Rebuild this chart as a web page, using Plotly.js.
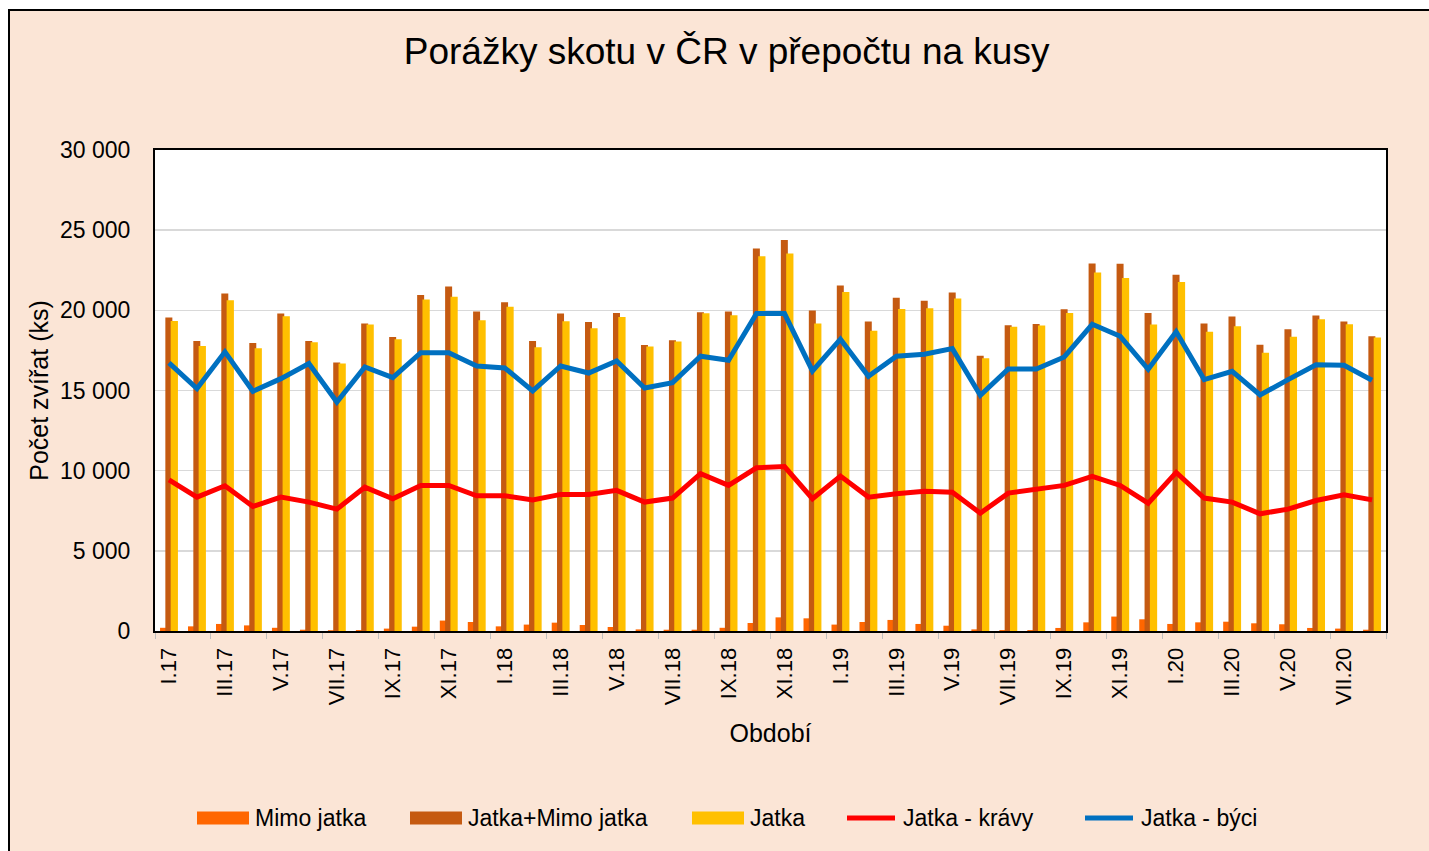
<!DOCTYPE html>
<html>
<head>
<meta charset="utf-8">
<script src="https://cdn.plot.ly/plotly-3.0.1.min.js"></script>
<style>
  html, body { margin: 0; padding: 0; background: #ffffff; overflow: hidden; }
  #frame { position: absolute; left: 8px; top: 9px; width: 1440px; height: 860px;
           border-left: 2px solid #000; border-top: 2px solid #000; background: #FBE5D6; }
  #chart { position: absolute; left: 0; top: 0; width: 1419px; height: 840px; }
</style>
</head>
<body>
<div id="frame"><div id="chart"></div></div>
<script>
const months = [
  "I.17","II.17","III.17","IV.17","V.17","VI.17","VII.17","VIII.17","IX.17","X.17","XI.17","XII.17",
  "I.18","II.18","III.18","IV.18","V.18","VI.18","VII.18","VIII.18","IX.18","X.18","XI.18","XII.18",
  "I.19","II.19","III.19","IV.19","V.19","VI.19","VII.19","VIII.19","IX.19","X.19","XI.19","XII.19",
  "I.20","II.20","III.20","IV.20","V.20","VI.20","VII.20","VIII.20"
];
const mimoJatka = [200,290,440,350,200,80,50,60,150,270,650,560,
  290,400,520,375,250,100,80,80,200,500,850,790,
  400,560,690,440,330,100,60,60,190,540,900,730,
  440,540,580,480,420,190,150,80];
const jatkaMimo = [19550,18090,21050,17970,19800,18090,16740,19180,18340,20950,21490,19930,
  20510,18090,19800,19280,19840,17840,18130,19880,19930,23860,24380,19990,
  21550,19300,20780,20590,21110,17160,19070,19150,20070,22920,22900,19840,
  22220,19180,19610,17860,18820,19680,19300,18380];
const jatka = [19340,17780,20630,17640,19630,18010,16680,19110,18200,20670,20840,19380,
  20220,17700,19320,18880,19590,17740,18050,19820,19700,23380,23550,19180,
  21150,18720,20090,20130,20740,17010,18970,19050,19840,22360,22010,19110,
  21760,18660,19010,17360,18360,19450,19130,18300];
const kravy = [9430,8350,9060,7770,8350,8040,7600,8970,8250,9080,9080,8430,
  8430,8180,8520,8520,8770,8040,8290,9810,9080,10180,10260,8250,
  9660,8350,8560,8720,8660,7350,8600,8870,9080,9640,9080,7970,
  9890,8290,8040,7310,7600,8140,8500,8180];
const byci = [16720,15120,17410,14950,15740,16680,14280,16470,15800,17360,17360,16530,
  16410,14970,16530,16090,16840,15160,15490,17140,16890,19800,19800,16220,
  18200,15890,17140,17260,17610,14700,16340,16340,17090,19130,18380,16320,
  18660,15680,16200,14720,15680,16610,16570,15640];

const seriesNames = ['Mimo jatka','Jatka+Mimo jatka','Jatka','Jatka - krávy','Jatka - býci'];
const seriesColors = ['#FF6600','#C55A11','#FFC000','#FF0000','#0070C0'];

const FONT = "Liberation Sans, Arial, sans-serif";
const traces = [
  {type:'bar', name:seriesNames[0], x:months, y:mimoJatka, marker:{color:seriesColors[0]}, width:0.25, offset:-0.32},
  {type:'bar', name:seriesNames[1], x:months, y:jatkaMimo, marker:{color:seriesColors[1]}, width:0.25, offset:-0.13},
  {type:'bar', name:seriesNames[2], x:months, y:jatka, marker:{color:seriesColors[2]}, width:0.26, offset:0.06},
  {type:'scatter', mode:'lines', name:seriesNames[3], x:months, y:kravy, line:{color:seriesColors[3], width:5}},
  {type:'scatter', mode:'lines', name:seriesNames[4], x:months, y:byci, line:{color:seriesColors[4], width:5}}
];

// Custom legend (wide swatches as in the reference), in paper coordinates of the plot area
const PX0 = 155, PW = 1231, PY0 = 631, PH = 481;
const px = X => (X - PX0) / PW;
const py = Y => (PY0 - Y) / PH;
const legY = 818;
const swatchX = [197, 410, 692, 845, 1083];
const shapes = [], annotations = [];
seriesNames.forEach((n, i) => {
  const x0 = swatchX[i], x1 = x0 + 52;
  if (i < 3) {
    shapes.push({type:'rect', xref:'paper', yref:'paper', x0:px(x0), x1:px(x1),
      y0:py(legY + 6.5), y1:py(legY - 6.5), fillcolor:seriesColors[i], line:{width:0}});
  } else {
    shapes.push({type:'line', xref:'paper', yref:'paper', x0:px(x0 + 2), x1:px(x1 - 2),
      y0:py(legY), y1:py(legY), line:{color:seriesColors[i], width:5}});
  }
  annotations.push({xref:'paper', yref:'paper', x:px(x1 + 4), y:py(legY), xanchor:'left', yanchor:'middle',
    text:n, showarrow:false, font:{size:23, family:FONT, color:'#000'}});
});

const layout = {
  width:1419, height:840,
  paper_bgcolor:'#FBE5D6', plot_bgcolor:'#FFFFFF',
  font:{family:FONT, color:'#000000', size:22},
  separators:', ',
  margin:{l:145, r:43, t:139, b:220},
  barmode:'overlay',
  showlegend:false,
  title:{text:'Porážky skotu v ČR v přepočtu na kusy', font:{size:37, family:FONT, color:'#000'},
         x:0.505, xref:'container', y:0.952, yref:'container', yanchor:'middle'},
  xaxis:{
    type:'category', range:[-0.5, 43.5], dtick:2, tick0:0, tickangle:-90,
    tickson:'boundaries', ticks:'outside', ticklen:6, tickcolor:'#BFBFBF',
    showgrid:false, showline:true, linecolor:'#000', linewidth:2, mirror:true,
    tickfont:{size:22, family:FONT}, ticklabelstandoff:6,
    title:{text:'Období', font:{size:25, family:FONT}, standoff:20}
  },
  yaxis:{
    range:[0,30000], dtick:5000, tickformat:',d', showgrid:true, gridcolor:'#D9D9D9', gridwidth:1.5,
    showline:true, linecolor:'#000', linewidth:2, mirror:true, zeroline:false, ticks:'',
    tickfont:{size:23, family:FONT}, ticklabelstandoff:18,
    title:{text:'Počet zvířat (ks)', font:{size:25, family:FONT}, standoff:4}
  },
  shapes:shapes,
  annotations:annotations
};
Plotly.newPlot('chart', traces, layout, {displayModeBar:false, staticPlot:true});
</script>
</body>
</html>
